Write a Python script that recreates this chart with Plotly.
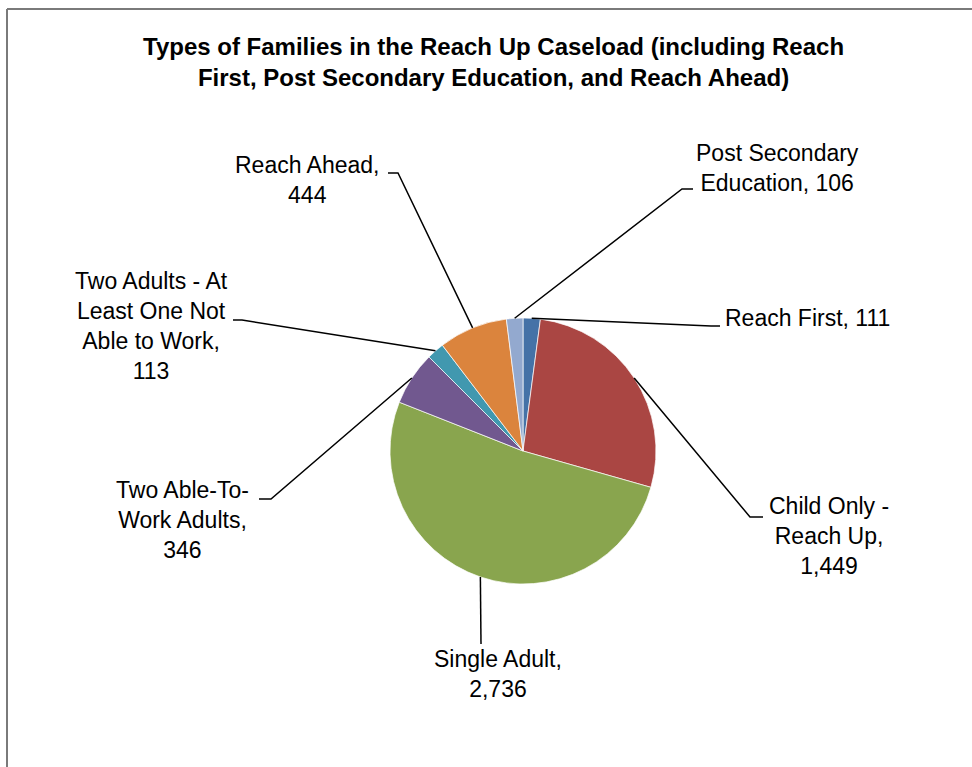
import math
import plotly.graph_objects as go

# ---- data ----
categories = ["Reach First", "Child Only - Reach Up", "Single Adult",
              "Two Able-To-Work Adults", "Two Adults - At Least One Not Able to Work",
              "Reach Ahead", "Post Secondary Education"]
values = [111, 1449, 2736, 346, 113, 444, 106]
label_prefix = ["Reach First, ", "Child Only -<br>Reach Up,<br>", "Single Adult,<br>",
                "Two Able-To-<br>Work Adults,<br>", "Two Adults - At<br>Least One Not<br>Able to Work,<br>",
                "Reach Ahead,<br>", "Post Secondary<br>Education, "]
colors = ["#4572A7", "#AA4643", "#89A54E", "#71588F", "#4198AF", "#DB843D", "#93A9CF"]
title_text = "Types of Families in the Reach Up Caseload (including Reach<br>First, Post Secondary Education, and Reach Ahead)"

# ---- layout geometry (pixels) ----
W, H = 972, 767
CX, CY, R = 523, 451, 133
# label centre, elbow of leader line, end of leader line
label_pos = [(807, 318), (829, 536), (498, 674), (182, 520), (151, 326), (307, 180), (777, 168)]
elbows = [(711, 326), (750, 517), (481, 644), (271, 499), (242, 320), (398, 173), (682, 189)]
ends = [(720, 326), (763, 517), (481, 644), (259, 499), (233, 320), (388, 173), (693, 189)]

def px(x):
    return x / W

def py(y):
    return 1 - y / H

fig = go.Figure(go.Pie(
    labels=categories, values=values, sort=False, direction="clockwise", rotation=0,
    marker=dict(colors=colors, line=dict(color="white", width=0.7)),
    textinfo="none", hoverinfo="label+value",
    domain=dict(x=[px(CX - R), px(CX + R)], y=[py(CY + R), py(CY - R)]),
    showlegend=False,
))

shapes = []
annotations = []
total = sum(values)
cum = 0
font = dict(family="Liberation Sans, Arial, sans-serif", size=23, color="black")
for i, v in enumerate(values):
    mid = (cum + v / 2) / total * 2 * math.pi
    cum += v
    ex = CX + R * math.sin(mid)
    ey = CY - R * math.cos(mid)
    path = f"M {px(ex)},{py(ey)} L {px(elbows[i][0])},{py(elbows[i][1])} L {px(ends[i][0])},{py(ends[i][1])}"
    shapes.append(dict(type="path", xref="paper", yref="paper", path=path,
                       line=dict(color="black", width=1.5)))
    annotations.append(dict(x=px(label_pos[i][0]), y=py(label_pos[i][1]), xref="paper", yref="paper",
                            xanchor="center", yanchor="middle", align="center", showarrow=False,
                            text=f"{label_prefix[i]}{v:,}", font=font))

# chart-area border (top and left visible)
shapes.append(dict(type="line", xref="paper", yref="paper", x0=px(7), y0=py(9), x1=1, y1=py(9),
                   line=dict(color="#7a7a7a", width=2)))
shapes.append(dict(type="line", xref="paper", yref="paper", x0=px(7), y0=py(9), x1=px(7), y1=0,
                   line=dict(color="#7a7a7a", width=2)))

annotations.append(dict(x=px(493), y=py(62), xref="paper", yref="paper", xanchor="center",
                        yanchor="middle", align="center", showarrow=False, text=title_text,
                        font=dict(family="Liberation Sans, Arial, sans-serif", size=24,
                                  color="black", weight="bold")))

fig.update_layout(width=W, height=H, margin=dict(l=0, r=0, t=0, b=0),
                  paper_bgcolor="white", plot_bgcolor="white",
                  shapes=shapes, annotations=annotations)

fig.write_html("out.html")
